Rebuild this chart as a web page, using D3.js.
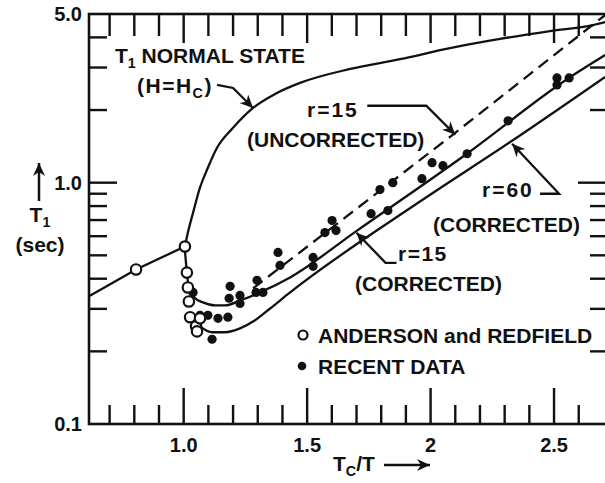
<!DOCTYPE html>
<html>
<head>
<meta charset="utf-8">
<script src="https://cdn.jsdelivr.net/npm/d3@7"></script>
<style>
  body { margin: 0; background: #fff; }
  svg { display: block; }
  text { font-family: "Liberation Sans", Arial, sans-serif; font-weight: bold; fill: #111; }
</style>
</head>
<body>
<div class="canva"></div>
<script>
// Anderson and Redfield (open circles): Tc/T, T1 (sec)
const andersonX = [0.807, 1.005, 1.013, 1.017, 1.021, 1.026, 1.050, 1.054, 1.066];
const andersonT = [0.437, 0.544, 0.424, 0.368, 0.322, 0.277, 0.254, 0.242, 0.274];

// recent data (filled dots)
const recentX = [1.038, 1.066, 1.098, 1.139, 1.179, 1.115, 1.188, 1.184, 1.228, 1.228,
                 1.297, 1.321, 1.293, 1.382, 1.390, 1.524, 1.524, 1.572, 1.601, 1.617,
                 1.759, 1.827, 1.795, 1.847, 1.965, 2.006, 2.050, 2.148, 2.314, 2.512,
                 2.512, 2.561];
const recentT = [0.351, 0.282, 0.282, 0.274, 0.277, 0.2245, 0.372, 0.332, 0.341, 0.316,
                 0.394, 0.351, 0.351, 0.514, 0.454, 0.490, 0.450, 0.621, 0.697, 0.633,
                 0.744, 0.766, 0.936, 1.00, 1.039, 1.21, 1.176, 1.318, 1.804, 2.716,
                 2.54, 2.716];

// T1 normal state (H = Hc)
const normalLowX = [0.6165, 0.807, 1.005];
const normalLowT = [0.338, 0.437, 0.544];
const normalX = [1.005, 1.017, 1.038, 1.066, 1.098, 1.135, 1.200, 1.281, 1.370, 1.471,
                 1.674, 1.876, 2.079, 2.281, 2.484, 2.658, 2.707];
const normalT = [0.544, 0.621, 0.751, 0.953, 1.153, 1.395, 1.688, 2.04, 2.33, 2.59,
                 2.96, 3.25, 3.61, 3.94, 4.25, 4.50, 4.63];

// r = 15 uncorrected (dashed)
const uncorrX = [1.281, 2.079, 2.707];
const uncorrT = [0.365, 1.549, 4.95];

// r = 15 corrected
const corr15X = [1.005, 1.013, 1.021, 1.042, 1.078, 1.127, 1.167, 1.228, 1.309, 1.431,
                 1.702, 2.147, 2.560, 2.707];
const corr15T = [0.524, 0.425, 0.365, 0.335, 0.319, 0.310, 0.310, 0.325, 0.351, 0.405,
                 0.633, 1.318, 2.716, 3.38];

// r = 60 corrected
const corr60X = [1.066, 1.115, 1.167, 1.228, 1.289, 1.350, 1.431, 1.957, 2.330, 2.707];
const corr60T = [0.254, 0.240, 0.240, 0.249, 0.269, 0.301, 0.351, 0.835, 1.491, 2.742];

// ticks
const xMinorTicks = [0.7, 0.8, 0.9, 1.1, 1.2, 1.3, 1.4, 1.6, 1.7, 1.8, 1.9, 2.1, 2.2, 2.3, 2.4, 2.6];
const xMajorTicks = [1.0, 1.5, 2.0, 2.5];
const xTickLabels = ["1.0", "1.5", "2", "2.5"];
const yMinorTicks = [0.2, 0.3, 0.4, 0.5, 0.6, 0.7, 0.8, 0.9, 2, 3, 4];
const yMajorTicks = [1];
const yLabelValues = [5, 1, 0.1];
const yTickLabels = ["5.0", "1.0", "0.1"];

const W = 605, H = 483;
const margin = {left: 89, right: 607, top: 14, bottom: 424};

const svg = d3.select(".canva").append("svg")
    .attr("width", W)
    .attr("height", H);

const x = d3.scaleLinear().domain([0.6165, 2.7145]).range([margin.left, margin.right]);
const y = d3.scaleLog().domain([0.1, 5]).range([margin.bottom, margin.top]);

const zip = (xs, ys) => xs.map((v, i) => [v, ys[i]]);
const line = d3.line().x(d => x(d[0])).y(d => y(d[1])).curve(d3.curveMonotoneX);
const straight = d3.line().x(d => x(d[0])).y(d => y(d[1]));

const ink = "#111";

svg.append("defs").append("marker")
    .attr("id", "head")
    .attr("markerUnits", "userSpaceOnUse")
    .attr("markerWidth", 14).attr("markerHeight", 12)
    .attr("refX", 13).attr("refY", 6)
    .attr("orient", "auto")
  .append("path")
    .attr("d", "M0,0 L13,6 L0,12 L4,6 Z")
    .attr("fill", ink);

// frame
svg.append("rect")
    .attr("x", margin.left).attr("y", margin.top)
    .attr("width", margin.right - margin.left).attr("height", margin.bottom - margin.top)
    .attr("fill", "none").attr("stroke", ink).attr("stroke-width", 2.6);

// x ticks (bottom up, top down)
const ticks = svg.append("g").attr("stroke", ink).attr("stroke-width", 2.4);
xMinorTicks.forEach(v => {
  ticks.append("line").attr("x1", x(v)).attr("x2", x(v)).attr("y1", margin.bottom).attr("y2", margin.bottom - 19);
  ticks.append("line").attr("x1", x(v)).attr("x2", x(v)).attr("y1", margin.top).attr("y2", margin.top + 22);
});
xMajorTicks.forEach(v => {
  ticks.append("line").attr("x1", x(v)).attr("x2", x(v)).attr("y1", margin.bottom).attr("y2", margin.bottom - 36);
  ticks.append("line").attr("x1", x(v)).attr("x2", x(v)).attr("y1", margin.top).attr("y2", margin.top + 29);
});
// y ticks (left right-pointing, right left-pointing)
yMinorTicks.forEach(v => {
  ticks.append("line").attr("x1", margin.left).attr("x2", margin.left + 18).attr("y1", y(v)).attr("y2", y(v));
  ticks.append("line").attr("x1", margin.right).attr("x2", margin.right - 17).attr("y1", y(v)).attr("y2", y(v));
});
yMajorTicks.forEach(v => {
  ticks.append("line").attr("x1", margin.left).attr("x2", margin.left + 28).attr("y1", y(v)).attr("y2", y(v));
  ticks.append("line").attr("x1", margin.right).attr("x2", margin.right - 29).attr("y1", y(v)).attr("y2", y(v));
});

// tick labels
svg.append("g").selectAll("text")
    .data(xMajorTicks)
    .enter().append("text")
    .attr("x", d => x(d)).attr("y", 452)
    .attr("text-anchor", "middle")
    .attr("font-size", 20)
    .text((d, i) => xTickLabels[i]);

svg.append("g").selectAll("text")
    .data(yLabelValues)
    .enter().append("text")
    .attr("x", 82).attr("y", d => y(d) + 7)
    .attr("text-anchor", "end")
    .attr("font-size", 20)
    .text((d, i) => yTickLabels[i]);

// curves
const curves = svg.append("g").attr("fill", "none").attr("stroke", ink).attr("stroke-width", 2.3);
curves.append("path").attr("d", straight(zip(normalLowX, normalLowT)));
curves.append("path").attr("d", line(zip(normalX, normalT)));
curves.append("path").attr("d", straight(zip(uncorrX, uncorrT))).attr("stroke-dasharray", "12,7");
curves.append("path").attr("d", line(zip(corr15X, corr15T)));
curves.append("path").attr("d", line(zip(corr60X, corr60T)));

// points
svg.append("g").selectAll("circle")
    .data(zip(recentX, recentT))
    .enter().append("circle")
    .attr("cx", d => x(d[0])).attr("cy", d => y(d[1]))
    .attr("r", 4.6)
    .attr("fill", ink);

svg.append("g").selectAll("circle")
    .data(zip(andersonX, andersonT))
    .enter().append("circle")
    .attr("cx", d => x(d[0])).attr("cy", d => y(d[1]))
    .attr("r", 5.2)
    .attr("fill", "#fff")
    .attr("stroke", ink)
    .attr("stroke-width", 2.2);

// annotation arrows: tip in data units, bends as pixel offsets from the tip
const arrows = [
  {tip: [1.281, 2.04], bends: [[-36, -23], [-20, -20]]},
  {tip: [2.100, 1.58], bends: [[-88, -29], [-29, -29]]},
  {tip: [2.330, 1.45], bends: [[28, 50], [47, 50]]},
  {tip: [1.700, 0.62], bends: [[40, 30], [29, 30]]}
];
arrows.forEach(a => {
  const tx = x(a.tip[0]), ty = y(a.tip[1]);
  const pts = a.bends.map(b => [tx + b[0], ty + b[1]]).concat([[tx, ty]]);
  svg.append("path")
      .attr("d", d3.line()(pts))
      .attr("fill", "none").attr("stroke", ink).attr("stroke-width", 2.3)
      .attr("marker-end", "url(#head)");
});

// text with optional subscripts: parts = [text, isSub]
function label(px, py, parts, size, anchor) {
  const t = svg.append("text").attr("x", px).attr("y", py)
      .attr("font-size", size).attr("text-anchor", anchor || "start");
  let low = false;
  parts.forEach(p => {
    const s = t.append("tspan").text(p[0]);
    if (p[1] && !low) { s.attr("dy", 5).attr("font-size", size * 0.68); low = true; }
    else if (!p[1] && low) { s.attr("dy", -5); low = false; }
  });
  return t;
}

label(115, 63, [["T"], ["1", 1], [" NORMAL STATE"]], 21);
label(137, 93, [["(H=H"], ["C", 1], [")"]], 21).attr("letter-spacing", 1.5);
label(307, 117, [["r=15"]], 21).attr("letter-spacing", 2);
label(247, 147, [["(UNCORRECTED)"]], 21);
label(482, 197, [["r=60"]], 21).attr("letter-spacing", 2);
label(433, 232, [["(CORRECTED)"]], 21);
label(398, 261, [["r=15"]], 21).attr("letter-spacing", 1.5);
label(355, 291, [["(CORRECTED)"]], 21);

// legend
svg.append("circle").attr("cx", 303).attr("cy", 335).attr("r", 4.5)
    .attr("fill", "#fff").attr("stroke", ink).attr("stroke-width", 2.2);
svg.append("circle").attr("cx", 302).attr("cy", 366).attr("r", 4.3).attr("fill", ink);
label(318, 343, [["ANDERSON and REDFIELD"]], 21);
label(318, 374, [["RECENT DATA"]], 21);

// axis titles
label(40, 222, [["T"], ["1", 1]], 21, "middle");
label(40, 252, [["(sec)"]], 21, "middle");
svg.append("path").attr("d", d3.line()([[39, 201], [39, 163]]))
    .attr("stroke", ink).attr("stroke-width", 2.5).attr("marker-end", "url(#head)");

label(333, 471, [["T"], ["C", 1], ["/T"]], 21);
svg.append("path").attr("d", d3.line()([[384, 465], [430, 465]]))
    .attr("stroke", ink).attr("stroke-width", 2.5).attr("marker-end", "url(#head)");
</script>
</body>
</html>
